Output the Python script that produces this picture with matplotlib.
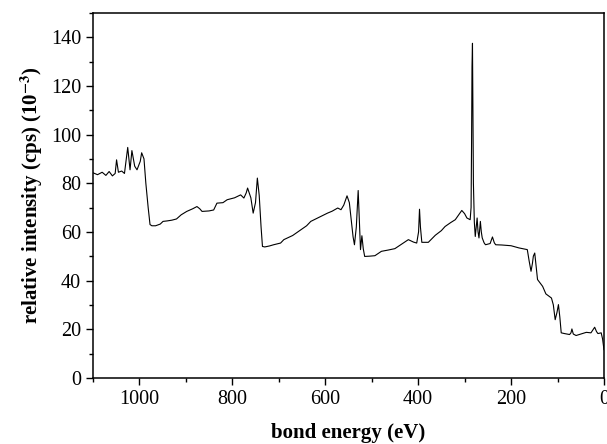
import matplotlib.pyplot as plt
from matplotlib.ticker import MultipleLocator

# XPS survey spectrum
energy = [1100, 1090, 1080, 1072, 1065, 1058, 1052, 1049, 1045, 1038,
          1032, 1025, 1020, 1016, 1010, 1005, 998, 995, 990, 986,
          981, 977, 973, 965, 955, 949, 940, 930, 920, 910,
          898, 885, 876, 870, 865, 850, 840, 833, 820, 811,
          795, 782, 775, 770, 767, 760, 755, 750, 746, 742,
          738, 735, 730, 720, 711, 696, 689, 670, 652, 640,
          631, 615, 595, 585, 573, 566, 560, 553, 548, 544,
          540, 537, 533, 529, 526, 524, 521, 518, 515, 505,
          493, 479, 465, 450, 435, 421, 410, 403, 399, 397,
          395, 392, 378, 363, 350, 342, 330, 320, 306, 300,
          295, 290, 288, 286, 285, 284, 283, 282, 281, 279,
          277, 275, 273, 271, 269, 267, 266, 264, 262, 258,
          255, 245, 240, 236, 233, 220, 200, 183, 172, 165,
          161, 157, 154, 152, 149, 146, 143, 132, 125, 118,
          113, 109, 105, 101, 98, 95, 92, 85, 74, 71,
          69, 66, 60, 50, 38, 28, 20, 16, 13, 6,
          3, 1, 0]
intensity = [84.3, 83.5, 84.5, 83.2, 84.8, 83.0, 84.0, 89.6, 84.5, 85.0,
             84.0, 94.7, 85.5, 93.4, 87.0, 85.5, 89.0, 92.5, 90.0, 80.0,
             70.0, 63.0, 62.5, 62.5, 63.2, 64.3, 64.5, 64.8, 65.3, 67.0,
             68.4, 69.5, 70.4, 69.5, 68.4, 68.6, 69.0, 71.8, 72.0, 73.2,
             74.0, 75.2, 73.9, 76.0, 78.0, 74.0, 67.7, 72.0, 82.1, 75.0,
             62.0, 54.0, 53.8, 54.2, 54.7, 55.4, 56.8, 58.5, 60.9, 62.5,
             64.3, 65.8, 67.7, 68.5, 69.8, 69.1, 71.0, 74.8, 72.0, 65.0,
             58.0, 54.7, 62.0, 77.0, 62.0, 52.7, 58.4, 53.0, 49.9, 50.0,
             50.2, 52.0, 52.5, 53.1, 55.0, 56.8, 55.8, 55.4, 60.0, 69.3,
             62.0, 55.7, 55.7, 58.6, 60.5, 62.2, 63.8, 65.0, 68.8, 67.5,
             65.7, 65.2, 65.0, 70.0, 95.0, 128.0, 137.5, 110.0, 80.0, 64.0,
             58.1, 62.0, 65.7, 60.0, 57.5, 62.0, 64.3, 60.0, 57.5, 55.5,
             54.7, 55.2, 57.9, 55.5, 54.7, 54.6, 54.3, 53.4, 53.0, 52.7,
             48.0, 43.8, 47.0, 50.0, 51.3, 46.0, 40.4, 37.6, 34.5, 33.5,
             32.8, 30.0, 23.9, 27.0, 30.1, 25.0, 18.5, 18.2, 17.8, 18.5,
             20.1, 18.0, 17.4, 18.0, 18.7, 18.5, 20.8, 19.0, 18.2, 18.5,
             16.0, 13.0, 11.6]

x_ticks = [1000, 800, 600, 400, 200, 0]
y_ticks = [0, 20, 40, 60, 80, 100, 120, 140]

plt.rcParams["font.family"] = ["Liberation Serif", "DejaVu Serif"]
plt.rcParams["mathtext.fontset"] = "stix"

fig = plt.figure(figsize=(6.07, 4.44), dpi=100)
ax = fig.add_axes([0.153, 0.149, 0.842, 0.822])

ax.plot(energy, intensity, color="black", linewidth=0.8)

ax.set_xlim(1100, 0)
ax.set_ylim(0, 150)
ax.set_xticks(x_ticks)
ax.set_yticks(y_ticks)
ax.xaxis.set_minor_locator(MultipleLocator(100))
ax.yaxis.set_minor_locator(MultipleLocator(10))
ax.tick_params(which="both", direction="out", top=False, right=False,
               labelsize=14.5, width=1.0)
ax.tick_params(which="major", length=5)
ax.tick_params(which="minor", length=3)
for s in ax.spines.values():
    s.set_linewidth(1.1)

ax.set_xlabel("bond energy (eV)", fontsize=15, fontweight="bold", labelpad=10)
ax.set_ylabel(r"relative intensity (cps) (10$^{\mathbf{-3}}$)", fontsize=15,
              fontweight="bold", labelpad=4)

fig.savefig("out.png", dpi=100)
